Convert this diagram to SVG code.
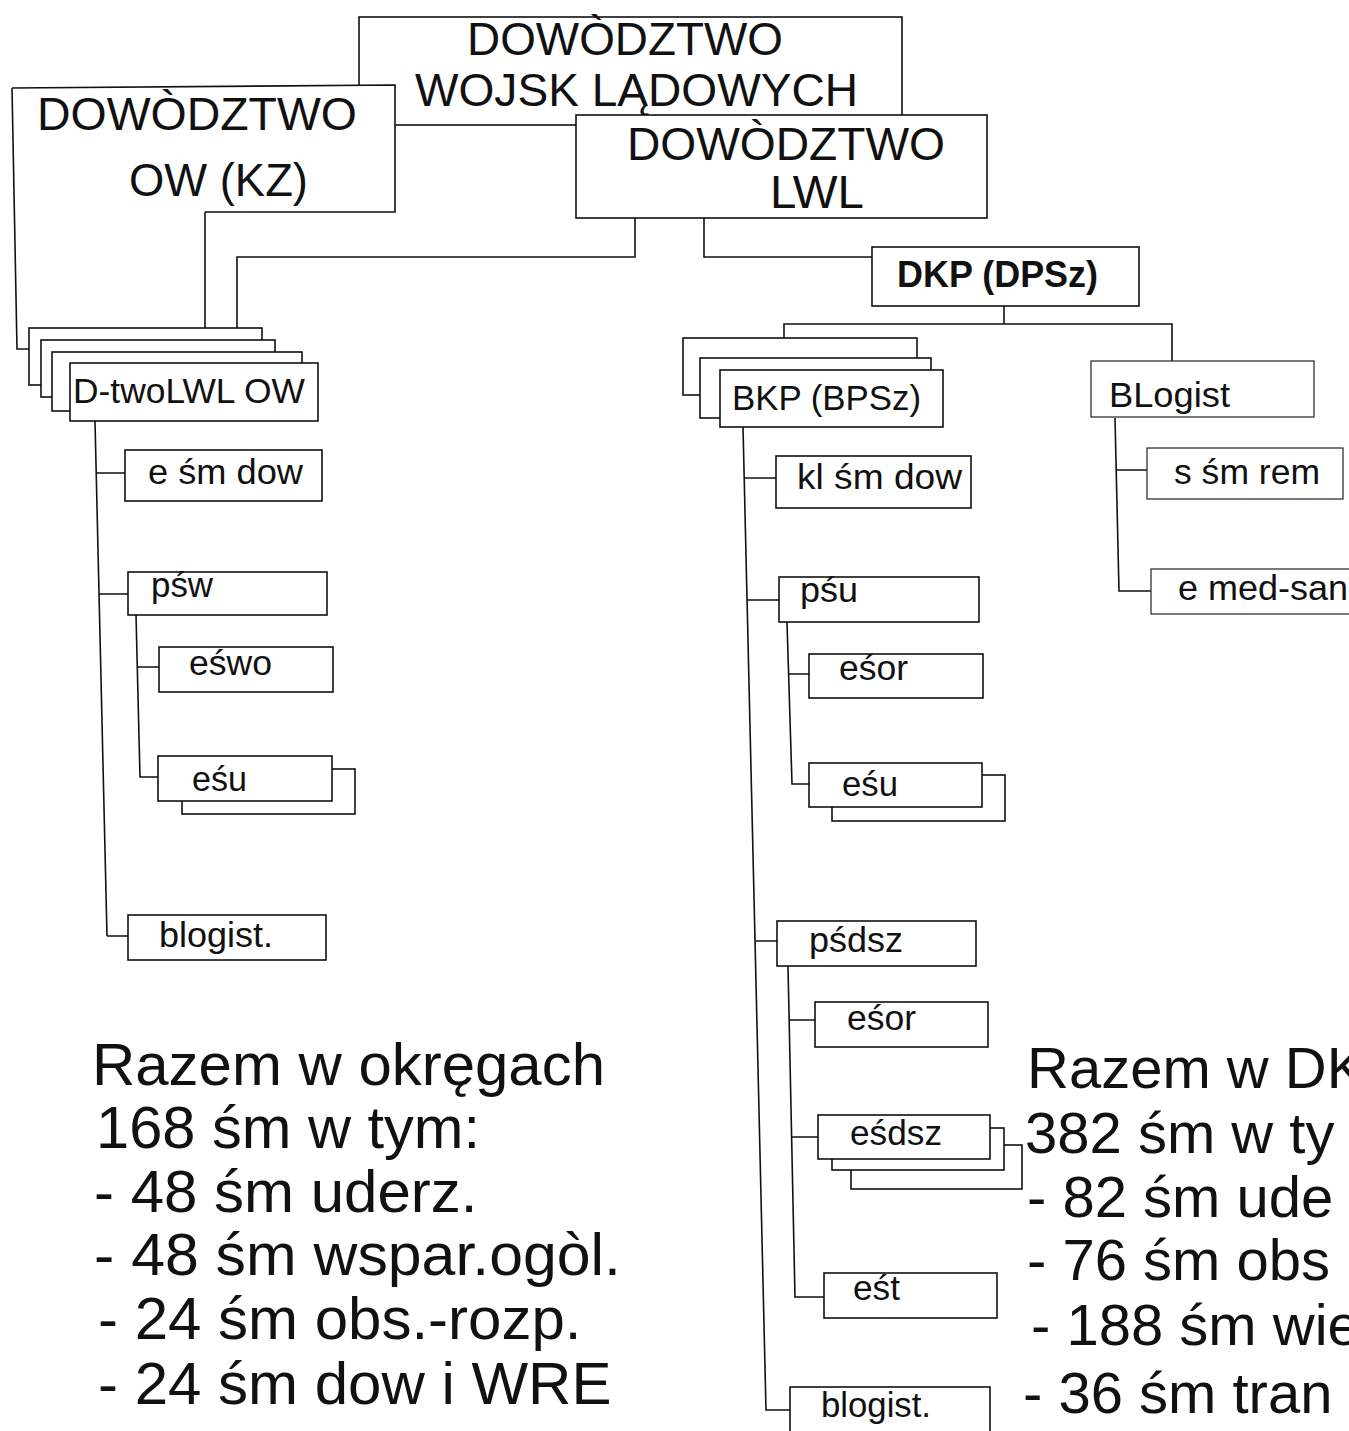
<svg xmlns="http://www.w3.org/2000/svg" width="1349" height="1431" viewBox="0 0 1349 1431">
<style>
.box{fill:#fff;stroke:#111;stroke-width:1.6}
.lt{fill:#fff;stroke:#333;stroke-width:1.3}
.ln{fill:none;stroke:#111;stroke-width:1.6}
.t{font-family:"Liberation Sans",Arial,sans-serif;fill:#111}
.big{font-size:46px}
.sm{font-size:35px}
.sum{font-size:60px}
.sumr{font-size:58px}
</style>
<rect width="1349" height="1431" fill="#fff"/>
<g id="n-dwl">
<rect class="box" x="359" y="17" width="543" height="108"/>
<text class="t big" x="467" y="55" textLength="316" lengthAdjust="spacingAndGlyphs">DOWÒDZTWO</text>
<text class="t big" x="415" y="106" textLength="443" lengthAdjust="spacingAndGlyphs">WOJSK LĄDOWYCH</text>
</g>
<g id="n-ow">
<rect x="12" y="86" width="383" height="126" fill="#fff" stroke="none"/>
<path class="ln" d="M12,88 L395,85 L395,212 L205,212"/>
<text class="t big" x="37" y="130" textLength="320" lengthAdjust="spacingAndGlyphs">DOWÒDZTWO</text>
<text class="t big" x="129" y="196" textLength="179" lengthAdjust="spacingAndGlyphs">OW (KZ)</text>
</g>
<g id="n-lwl">
<rect class="box" x="576" y="115" width="411" height="103"/>
<text class="t big" x="627" y="160" textLength="318" lengthAdjust="spacingAndGlyphs">DOWÒDZTWO</text>
<text class="t big" x="770" y="208" textLength="94" lengthAdjust="spacingAndGlyphs">LWL</text>
</g>
<g id="connectors">
<path class="ln" d="M12,88 L17,349 L29,349" stroke="#444"/>
<path class="ln" d="M205,212 L205,328"/>
<path class="ln" d="M635,218 L635,257 L237,257 L237,328"/>
<path class="ln" d="M704,218 L704,257 L872,257"/>
<path class="ln" d="M1004,306 L1004,324 M784,338 L784,324 L1172,324 L1172,361"/>
<path class="ln" d="M95,421 L107,936 M96,473 L125,473 M99,594 L128,594 M107,936 L128,936"/>
<path class="ln" d="M136,615 L140,777 L158,777 M137,667 L159,667"/>
<path class="ln" d="M743,427 L766,1410 L790,1410 M744,478 L776,478 M747,600 L779,600 M755,941 L777,941"/>
<path class="ln" d="M787,622 L792,784 L809,784 M789,674 L809,674"/>
<path class="ln" d="M788,966 L795,1297 L824,1297 M789,1020 L815,1020 M792,1137 L818,1137"/>
<path class="ln" d="M1115,418 L1119,591 L1151,591 M1116,470 L1147,470" stroke="#333"/>
</g>
<g id="n-dtwo">
<rect class="box" x="29" y="328" width="233" height="57"/>
<rect class="box" x="41" y="340" width="234" height="57"/>
<rect class="box" x="52" y="352" width="250" height="59"/>
<rect class="box" x="70" y="363" width="248" height="58"/>
<text class="t sm" x="73" y="403" textLength="232" lengthAdjust="spacingAndGlyphs">D-twoLWL OW</text>
</g>
<g id="n-esmdow">
<rect class="box" x="125" y="450" width="197" height="51"/>
<text class="t sm" x="148" y="484" textLength="155" lengthAdjust="spacingAndGlyphs">e śm dow</text>
</g>
<g id="n-psw">
<rect class="box" x="128" y="572" width="199" height="43"/>
<text class="t sm" x="151" y="597" textLength="62" lengthAdjust="spacingAndGlyphs">pśw</text>
</g>
<g id="n-eswo">
<rect class="box" x="159" y="647" width="174" height="45"/>
<text class="t sm" x="189" y="675" textLength="83" lengthAdjust="spacingAndGlyphs">eśwo</text>
</g>
<g id="n-esu-l">
<rect class="box" x="182" y="769" width="173" height="45"/>
<rect class="box" x="158" y="756" width="174" height="45"/>
<text class="t sm" x="192" y="791" textLength="55" lengthAdjust="spacingAndGlyphs">eśu</text>
</g>
<g id="n-blogist-l">
<rect class="box" x="128" y="915" width="198" height="45"/>
<text class="t sm" x="159" y="947" textLength="114" lengthAdjust="spacingAndGlyphs">blogist.</text>
</g>
<g id="n-dkp">
<rect class="box" x="872" y="247" width="267" height="59"/>
<text class="t" x="897" y="287" font-size="36" font-weight="bold" textLength="201" lengthAdjust="spacingAndGlyphs">DKP (DPSz)</text>
</g>
<g id="n-bkp">
<rect class="box" x="683" y="338" width="234" height="57"/>
<rect class="box" x="700" y="358" width="231" height="60"/>
<rect class="box" x="720" y="370" width="223" height="57"/>
<text class="t sm" x="732" y="410" textLength="189" lengthAdjust="spacingAndGlyphs">BKP (BPSz)</text>
</g>
<g id="n-blogist-r">
<rect class="lt" x="1091" y="361" width="223" height="56"/>
<text class="t sm" x="1109" y="407" textLength="121" lengthAdjust="spacingAndGlyphs">BLogist</text>
</g>
<g id="n-ssmrem">
<rect class="lt" x="1147" y="448" width="196" height="51"/>
<text class="t sm" x="1174" y="484" textLength="146" lengthAdjust="spacingAndGlyphs">s śm rem</text>
</g>
<g id="n-emedsan">
<rect class="lt" x="1151" y="569" width="220" height="45"/>
<text class="t sm" x="1178" y="600" textLength="170" lengthAdjust="spacingAndGlyphs">e med-san</text>
</g>
<g id="n-klsmdow">
<rect class="box" x="776" y="456" width="195" height="52"/>
<text class="t sm" x="797" y="489" textLength="165" lengthAdjust="spacingAndGlyphs">kl śm dow</text>
</g>
<g id="n-psu">
<rect class="box" x="779" y="577" width="200" height="45"/>
<text class="t sm" x="800" y="602" textLength="58" lengthAdjust="spacingAndGlyphs">pśu</text>
</g>
<g id="n-esor1">
<rect class="box" x="809" y="654" width="174" height="44"/>
<text class="t sm" x="839" y="680" textLength="69" lengthAdjust="spacingAndGlyphs">eśor</text>
</g>
<g id="n-esu-r">
<rect class="box" x="832" y="775" width="173" height="46"/>
<rect class="box" x="809" y="763" width="173" height="44"/>
<text class="t sm" x="842" y="796" textLength="56" lengthAdjust="spacingAndGlyphs">eśu</text>
</g>
<g id="n-psdsz">
<rect class="box" x="777" y="921" width="199" height="45"/>
<text class="t sm" x="809" y="952" textLength="94" lengthAdjust="spacingAndGlyphs">pśdsz</text>
</g>
<g id="n-esor2">
<rect class="box" x="815" y="1002" width="173" height="45"/>
<text class="t sm" x="847" y="1030" textLength="69" lengthAdjust="spacingAndGlyphs">eśor</text>
</g>
<g id="n-esdsz">
<rect class="box" x="851" y="1145" width="171" height="44"/>
<rect class="box" x="832" y="1128" width="172" height="42"/>
<rect class="box" x="818" y="1115" width="172" height="44"/>
<text class="t sm" x="850" y="1145" textLength="92" lengthAdjust="spacingAndGlyphs">eśdsz</text>
</g>
<g id="n-est">
<rect class="box" x="824" y="1273" width="173" height="45"/>
<text class="t sm" x="853" y="1300" textLength="47" lengthAdjust="spacingAndGlyphs">eśt</text>
</g>
<g id="n-blogist-b">
<rect class="box" x="790" y="1387" width="200" height="60"/>
<text class="t sm" x="821" y="1417" textLength="110" lengthAdjust="spacingAndGlyphs">blogist.</text>
</g>
<g id="sum-left" class="t sum">
<text x="92" y="1085" textLength="513" lengthAdjust="spacingAndGlyphs">Razem w okręgach</text>
<text x="96" y="1148" textLength="384" lengthAdjust="spacingAndGlyphs">168 śm w tym:</text>
<text x="94" y="1212">- 48 śm uderz.</text>
<text x="94" y="1275" textLength="527" lengthAdjust="spacingAndGlyphs">- 48 śm wspar.ogòl.</text>
<text x="98" y="1339">- 24 śm obs.-rozp.</text>
<text x="98" y="1404">- 24 śm dow i WRE</text>
</g>
<g id="sum-right" class="t sumr">
<text x="1027" y="1088">Razem w DK</text>
<text x="1025" y="1153">382 śm w ty</text>
<text x="1027" y="1217">- 82 śm ude</text>
<text x="1027" y="1280">- 76 śm obs</text>
<text x="1031" y="1345">- 188 śm wie</text>
<text x="1023" y="1413">- 36 śm tran</text>
</g>
</svg>
